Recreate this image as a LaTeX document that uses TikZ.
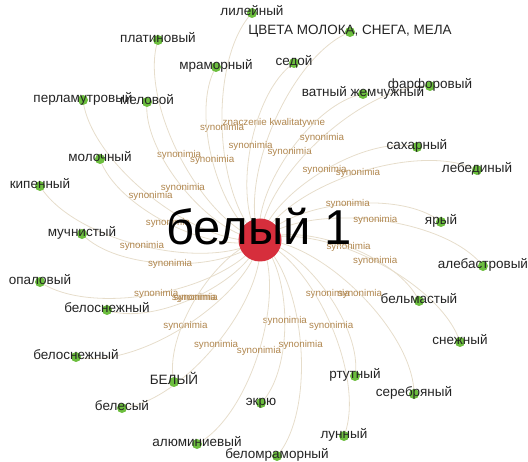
\documentclass[tikz,border=0pt]{standalone}
\usepackage{fontspec}
\setmainfont{Liberation Sans}
\usepackage{xcolor}
\definecolor{nodegreen}{RGB}{108,190,62}
\definecolor{hubred}{RGB}{214,46,60}
\definecolor{edgebeige}{RGB}{230,221,203}
\definecolor{labelbrown}{RGB}{176,134,78}
\definecolor{wordgray}{RGB}{36,36,36}
\usepackage{tikz}
\usetikzlibrary{backgrounds}

\begin{document}
\begin{tikzpicture}[x=1pt, y=1pt,
    hub/.style={circle, fill=hubred, minimum size=43pt, inner sep=0pt},
    leaf/.style={circle, fill=nodegreen, minimum size=10pt, inner sep=0pt},
    word/.style={font=\fontsize{13.5}{14}\selectfont, text=wordgray,
                 text height=0.7em, text depth=0.18em, inner sep=0pt},
    link/.style={draw=edgebeige, line width=0.8pt, bend left=45, looseness=0.72},
    rel/.style={font=\fontsize{9.8}{10}\selectfont, text=labelbrown,
                midway, inner sep=0pt},
  ]
    \useasboundingbox (0,0) rectangle (528,-462);

    \node[hub] (bel) at (260,-240) {};

    \node[leaf, label={[word]center:лилейный}] (lilej) at (252,-13) {};
    \node[leaf, label={[word]center:{ЦВЕТА МОЛОКА, СНЕГА, МЕЛА}}] (cveta) at (350,-32) {};
    \node[leaf, label={[word]center:платиновый}] (platin) at (158,-40) {};
    \node[leaf, label={[word]center:мраморный}] (mramor) at (216,-67) {};
    \node[leaf, label={[word]center:седой}] (sedoj) at (294,-63) {};
    \node[leaf, label={[word]center:перламутровый}] (perlam) at (83,-100) {};
    \node[leaf, label={[word]center:меловой}] (melov) at (147,-102) {};
    \node[leaf, label={[word]center:ватный жемчужный}] (vatnyj) at (363,-94) {};
    \node[leaf, label={[word]center:фарфоровый}] (farfor) at (430,-86) {};
    \node[leaf, label={[word]center:сахарный}] (sahar) at (417,-147) {};
    \node[leaf, label={[word]center:молочный}] (moloch) at (100,-159) {};
    \node[leaf, label={[word]center:кипенный}] (kipen) at (40,-186) {};
    \node[leaf, label={[word]center:лебединый}] (lebed) at (477,-170) {};
    \node[leaf, label={[word]center:ярый}] (jaryj) at (441,-222) {};
    \node[leaf, label={[word]center:мучнистый}] (muchn) at (82,-234) {};
    \node[leaf, label={[word]center:алебастровый}] (alebast) at (483,-266) {};
    \node[leaf, label={[word]center:опаловый}] (opal) at (40,-282) {};
    \node[leaf, label={[word]center:бельмастый}] (belm) at (419,-301) {};
    \node[leaf, label={[word]center:белоснежный}] (belosn) at (107,-310) {};
    \node[leaf, label={[word]center:белоснежный}] (belosnb) at (76,-357) {};
    \node[leaf, label={[word]center:снежный}] (snezh) at (460,-342) {};
    \node[leaf, label={[word]center:БЕЛЫЙ}] (belyj) at (174,-382) {};
    \node[leaf, label={[word]center:ртутный}] (rtut) at (355,-376) {};
    \node[leaf, label={[word]center:серебряный}] (serebr) at (414,-394) {};
    \node[leaf, label={[word]center:белесый}] (beles) at (122,-408) {};
    \node[leaf, label={[word]center:экрю}] (ekru) at (261,-403) {};
    \node[leaf, label={[word]center:алюминиевый}] (alum) at (197,-444) {};
    \node[leaf, label={[word]center:лунный}] (lunn) at (344,-436) {};
    \node[leaf, label={[word]center:беломраморный}] (belomr) at (277,-456) {};

    \node[font=\fontsize{49}{50}\selectfont, text=black, anchor=base,
          inner sep=0pt] (beltxt) at (259,-245) {белый 1};

    \begin{scope}[on background layer]
      \draw[link] (bel.center) to node[rel] {synonimia} (lilej.center);
      \draw[link] (bel.center) to node[rel] {znaczenie kwalitatywne} (cveta.center);
      \draw[link] (bel.center) to node[rel] {synonimia} (platin.center);
      \draw[link] (bel.center) to node[rel] {synonimia} (mramor.center);
      \draw[link] (bel.center) to node[rel] {synonimia} (sedoj.center);
      \draw[link] (bel.center) to node[rel] {synonimia} (perlam.center);
      \draw[link] (bel.center) to node[rel] {synonimia} (melov.center);
      \draw[link] (bel.center) to node[rel] {synonimia} (vatnyj.center);
      \draw[link] (bel.center) to node[rel] {synonimia} (farfor.center);
      \draw[link] (bel.center) to node[rel] {synonimia} (sahar.center);
      \draw[link] (bel.center) to node[rel] {synonimia} (moloch.center);
      \draw[link] (bel.center) to node[rel] {synonimia} (kipen.center);
      \draw[link] (bel.center) to node[rel] {synonimia} (lebed.center);
      \draw[link] (bel.center) to node[rel] {synonimia} (jaryj.center);
      \draw[link] (bel.center) to node[rel] {synonimia} (muchn.center);
      \draw[link] (bel.center) to node[rel] {synonimia} (alebast.center);
      \draw[link] (bel.center) to node[rel] {synonimia} (opal.center);
      \draw[link] (bel.center) to node[rel] {synonimia} (belm.center);
      \draw[link] (bel.center) to node[rel] {synonimia} (belosn.center);
      \draw[link] (bel.center) to node[rel] {synonimia} (belosnb.center);
      \draw[link] (bel.center) to node[rel] {synonimia} (snezh.center);
      \draw[link] (belyj.center) to node[rel] {synonimia} (bel.center);
      \draw[link] (bel.center) to node[rel] {synonimia} (rtut.center);
      \draw[link] (bel.center) to node[rel] {synonimia} (serebr.center);
      \draw[link] (bel.center) to node[rel] {synonimia} (beles.center);
      \draw[link] (bel.center) to node[rel] {synonimia} (ekru.center);
      \draw[link] (bel.center) to node[rel] {synonimia} (alum.center);
      \draw[link] (bel.center) to node[rel] {synonimia} (lunn.center);
      \draw[link] (bel.center) to node[rel] {synonimia} (belomr.center);
    \end{scope}
  \end{tikzpicture}
\end{document}
